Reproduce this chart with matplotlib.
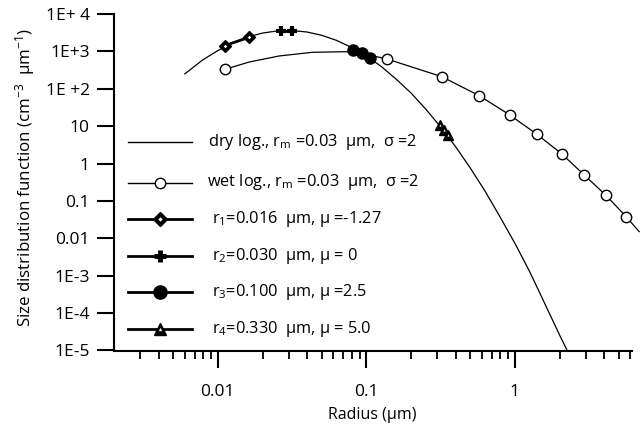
import matplotlib
matplotlib.use("Agg")
import matplotlib.pyplot as plt
from matplotlib.lines import Line2D
from matplotlib.ticker import FixedLocator, NullFormatter

plt.rcParams['font.family'] = ['Open Sans', 'DejaVu Sans']
plt.rcParams['mathtext.fontset'] = 'custom'
plt.rcParams['mathtext.rm'] = 'Open Sans'
plt.rcParams['mathtext.it'] = 'Open Sans'

# ---- data ----
dry_r = [0.0060, 0.0079, 0.010, 0.0126, 0.0158, 0.020, 0.0251, 0.0316, 0.0398,
         0.050, 0.063, 0.079, 0.100, 0.126, 0.158, 0.200, 0.251, 0.316, 0.398,
         0.50, 0.63, 0.79, 1.00, 1.26, 1.58, 2.00, 2.25]
dry_n = [250, 590, 1050, 1690, 2420, 3090, 3530, 3610, 3300,
         2700, 1970, 1290, 750, 395, 184, 77, 28.7, 9.6, 2.86,
         0.77, 0.183, 0.039, 0.0074, 0.00127, 1.9e-4, 2.6e-5, 1.0e-5]

wet_r = [0.0112, 0.0163, 0.0259, 0.0434, 0.0728, 0.0993, 0.1375, 0.322, 0.575,
         0.925, 1.407, 2.07, 2.93, 4.10, 5.64, 6.87]
wet_n = [332, 521, 754, 946, 982, 836, 627, 211, 65.4,
         19.9, 6.07, 1.81, 0.495, 0.142, 0.0373, 0.0151]

wet_mark_r = [0.0112, 0.1375, 0.322, 0.575, 0.925, 1.407, 2.07, 2.93, 4.10, 5.64]
wet_mark_n = [332, 627, 211, 65.4, 19.9, 6.07, 1.81, 0.495, 0.142, 0.0373]

r1_r = [0.0111, 0.01625]
r1_n = [1418, 2385]
r2_r = [0.0268, 0.0318]
r2_n = [3580, 3580]
r3_r = [0.0815, 0.0933, 0.1056]
r3_n = [1090, 922, 653]
r4_r = [0.314, 0.334, 0.356]
r4_n = [10.8, 7.9, 5.8]

y_ticks = [1e-5, 1e-4, 1e-3, 1e-2, 1e-1, 1, 10, 1e2, 1e3, 1e4]
y_labels = ["1E-5", "1E-4", "1E-3", "0.01", "0.1", "1", "10", "1E +2", "1E+3", "1E+ 4"]
x_ticks = [0.01, 0.1, 1]
x_labels = ["0.01", "0.1", "1"]
x_minor = [0.003, 0.004, 0.005, 0.006, 0.007, 0.008, 0.009,
           0.02, 0.03, 0.04, 0.05, 0.06, 0.07, 0.08, 0.09,
           0.2, 0.3, 0.4, 0.5, 0.6, 0.7, 0.8, 0.9,
           2, 3, 4, 5, 6]

legend_labels = [
    "dry log., r$_{\\mathrm{m}}$ =0.03  \u03bcm,  \u03c3 =2",
    "wet log., r$_{\\mathrm{m}}$ =0.03  \u03bcm,  \u03c3 =2",
    "r$_{1}$=0.016  \u03bcm, \u03bc =-1.27",
    "r$_{2}$=0.030  \u03bcm, \u03bc = 0",
    "r$_{3}$=0.100  \u03bcm, \u03bc =2.5",
    "r$_{4}$=0.330  \u03bcm, \u03bc = 5.0",
]

W, H = 640, 432
fig = plt.figure(figsize=(6.4, 4.32), dpi=100)
ax = fig.add_axes([114 / W, 1 - 350.5 / H, (631.5 - 114) / W, (350.5 - 14) / H])

ax.plot(dry_r, dry_n, color='black', lw=0.9, zorder=2)
ax.plot(wet_r, wet_n, color='black', lw=0.9, zorder=2, clip_on=False)
ax.plot(wet_mark_r, wet_mark_n, ls='none', marker='o', ms=7.5, mfc='white',
        mec='black', mew=1.0, zorder=3, clip_on=False)

ax.plot(r1_r, r1_n, color='black', lw=2, marker='D', ms=6.5, mfc='black',
        mec='black', mew=1, zorder=4)
ax.plot(r1_r, r1_n, ls='none', marker='D', ms=1.8, mfc='white', mec='white',
        mew=0, zorder=5)
ax.plot(r2_r, r2_n, color='black', lw=2, marker='+', ms=7.5, mew=3, zorder=4)
ax.plot(r3_r, r3_n, color='black', lw=2, marker='o', ms=8, mfc='black',
        mec='black', zorder=4)
ax.plot(r4_r, r4_n, color='black', lw=2, marker='^', ms=6.5, mfc='black',
        mec='black', mew=1, zorder=4)
ax.plot(r4_r, r4_n, ls='none', marker='^', ms=1.6, mfc='white', mec='white',
        mew=0, zorder=5)

ax.set_xscale('log')
ax.set_yscale('log')
ax.set_xlim(0.002, 6.1)
ax.set_ylim(1e-5, 1e4)

ax.set_yticks(y_ticks)
ax.set_yticklabels(y_labels)
ax.yaxis.set_minor_locator(FixedLocator([]))
ax.set_xticks(x_ticks)
ax.set_xticklabels(x_labels)
ax.xaxis.set_minor_locator(FixedLocator(x_minor))
ax.xaxis.set_minor_formatter(NullFormatter())

for s in ['top', 'right']:
    ax.spines[s].set_visible(False)
for s in ['left', 'bottom']:
    ax.spines[s].set_linewidth(1.5)

ax.tick_params(axis='y', which='major', direction='out', length=12.5, width=1.5,
               labelsize=12.5, pad=5)
ax.tick_params(axis='x', which='major', direction='out', length=12, width=1.5,
               labelsize=12.5, pad=12)
ax.tick_params(axis='x', which='minor', direction='out', length=5.5, width=1.3)

ax.set_xlabel("Radius (\u03bcm)", fontsize=11.5, labelpad=5)
ax.set_ylabel("Size distribution function (cm$^{-3}$  \u03bcm$^{-1}$)", fontsize=12.2)
ax.yaxis.set_label_coords((25 - 114) / 517.5, (350.5 - 178) / 336.5)
ax.yaxis.label.set_va('center')

# ---- manual legend ----
rows_y = [141.7, 182.5, 219, 255.5, 292, 329]
styles = [
    dict(marker=None, lw=1.0),
    dict(marker='o', ms=7.5, mfc='white', mec='black', mew=1.0, lw=1.0),
    dict(marker='D', ms=7.5, mfc='black', mec='black', mew=1, lw=2, dot=2.2),
    dict(marker='+', ms=9, mew=3.5, lw=2),
    dict(marker='o', ms=9.5, mfc='black', mec='black', lw=2),
    dict(marker='^', ms=8, mfc='black', mec='black', mew=1, lw=2, dot=2.4),
]
text_x = [208, 207, 212, 212, 212, 212]
for yy, st, lab, tx in zip(rows_y, styles, legend_labels, text_x):
    yf = 1 - yy / H
    ln = Line2D([128 / W, 192 / W], [yf, yf], color='black',
                transform=fig.transFigure, lw=st['lw'])
    fig.add_artist(ln)
    if st.get('marker'):
        mk = Line2D([160 / W], [yf], color='black', ls='none', transform=fig.transFigure,
                    marker=st['marker'], ms=st.get('ms', 8), mfc=st.get('mfc', 'black'),
                    mec=st.get('mec', 'black'), mew=st.get('mew', 1.0))
        fig.add_artist(mk)
        if st.get('dot'):
            dt = Line2D([160 / W], [yf], ls='none', transform=fig.transFigure,
                        marker=st['marker'], ms=st['dot'], mfc='white', mec='white', mew=0)
            fig.add_artist(dt)
    fig.text(tx / W, yf, lab, fontsize=11.8, va='center', ha='left')

fig.savefig("out.png", dpi=100)
